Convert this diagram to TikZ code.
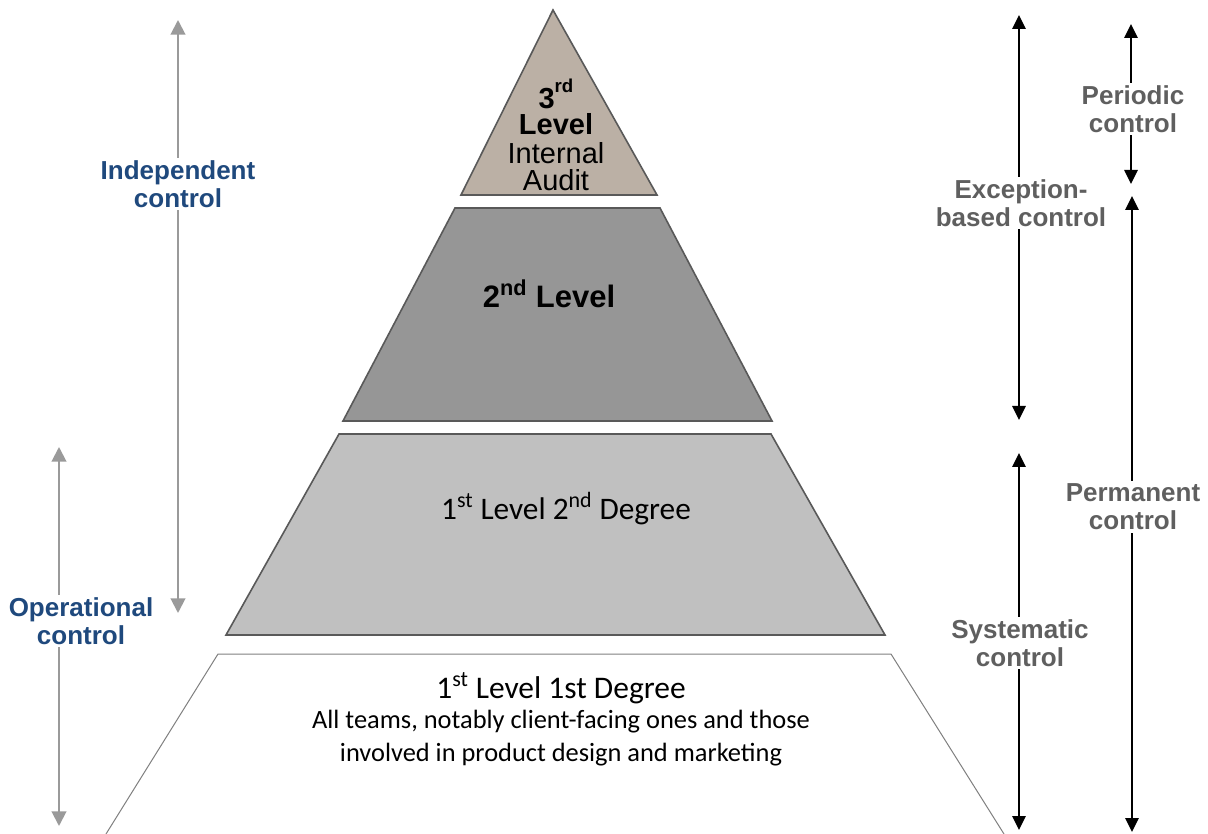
\documentclass[tikz,border=0pt]{standalone}
\usepackage{fontspec}
\setmainfont{Liberation Sans}[BoldFont={Liberation Sans Bold}]
\newfontfamily\calib{Carlito}
\usetikzlibrary{arrows.meta}
\definecolor{lvlthree}{HTML}{BBB0A5}
\definecolor{lvltwo}{HTML}{969696}
\definecolor{lvlonetwo}{HTML}{C0C0C0}
\definecolor{edge}{HTML}{595959}
\definecolor{thinedge}{HTML}{808080}
\definecolor{ctrlblue}{HTML}{1F497D}
\definecolor{ctrlgray}{HTML}{5F5F5F}
\definecolor{arrowgray}{HTML}{9A9A9A}
\begin{document}
\begin{tikzpicture}[x=0.75pt,y=-0.75pt,
  tier/.style={draw=edge,line width=1.2pt},
  garrow/.style={draw=arrowgray,line width=1.5pt,
    {Triangle[length=11pt,width=11pt]}-{Triangle[length=11pt,width=11pt]}},
  karrow/.style={draw=black,line width=1.2pt,
    {Triangle[length=10.5pt,width=10pt]}-{Triangle[length=10.5pt,width=10pt]}},
  bluelab/.style={fill=white,text=ctrlblue,align=center,inner sep=2pt,
    font=\bfseries\fontsize{19.5}{21}\selectfont},
  graylab/.style={fill=white,text=ctrlgray,align=center,inner sep=2pt,
    font=\bfseries\fontsize{19.5}{21}\selectfont},
  basetext/.style={align=center,inner sep=0pt}]
\useasboundingbox (0,0) rectangle (1208,834);
\fill[white] (0,0) rectangle (1208,834);

% pyramid tiers
\filldraw[tier,fill=lvlthree] (553,10) -- (657,195) -- (461,195) -- cycle;
\filldraw[tier,fill=lvltwo] (455,208) -- (660,208) -- (772,421) -- (343,421) -- cycle;
\filldraw[tier,fill=lvlonetwo] (339,434) -- (771,434) -- (885,635) -- (226,635) -- cycle;
\draw[draw=thinedge,line width=0.75pt] (106,834) -- (218,654) -- (891,654) -- (1004,834);

% tier texts
\node[basetext,font=\fontsize{21.75}{20}\selectfont,anchor=north] (t3) at (556,79)
  {\bfseries 3\raisebox{0.55em}{\fontsize{14}{14}\selectfont rd}\\[-1pt]
   \bfseries Level\\[2pt] Internal\\ Audit};
\node[basetext,font=\bfseries\fontsize{23.25}{26}\selectfont] (t2) at (549,294) {2\textsuperscript{nd} Level};
\node[basetext,font=\calib\fontsize{23.5}{26}\selectfont] (t12) at (566,509) {1\textsuperscript{st} Level 2\textsuperscript{nd} Degree};
\node[basetext,font=\calib\fontsize{23.6}{26}\selectfont] (t11) at (561,688) {1\textsuperscript{st} Level 1st Degree};
\node[basetext,font=\calib\fontsize{19.8}{25}\selectfont,anchor=north] (t11d) at (561,710)
  {All teams, notably client-facing ones and those\\involved in product design and marketing};

% left-hand scales
\coordinate (indtop) at (178,20);
\coordinate (indbot) at (178,613);
\draw[garrow] (indtop) -- (indbot);
\node[bluelab] (ind) at (178,184) {Independent\\control};

\coordinate (optop) at (59,447);
\coordinate (opbot) at (59,826);
\draw[garrow] (optop) -- (opbot);
\node[bluelab] (op) at (81,621) {Operational\\control};

% right-hand scales
\coordinate (exctop) at (1019,15);
\coordinate (excbot) at (1019,420);
\draw[karrow] (exctop) -- (excbot);
\node[graylab] (exc) at (1021,203) {Exception-\\based control};

\coordinate (systop) at (1019,453);
\coordinate (sysbot) at (1019,830);
\draw[karrow] (systop) -- (sysbot);
\node[graylab] (sys) at (1020,643) {Systematic\\control};

\coordinate (pertop) at (1131,24);
\coordinate (perbot) at (1131,184);
\draw[karrow] (pertop) -- (perbot);
\node[graylab] (per) at (1133,109) {Periodic\\control};

\coordinate (pmttop) at (1132,196);
\coordinate (pmtbot) at (1132,832);
\draw[karrow] (pmttop) -- (pmtbot);
\node[graylab] (pmt) at (1133,507) {Permanent\\control};
\end{tikzpicture}
\end{document}
